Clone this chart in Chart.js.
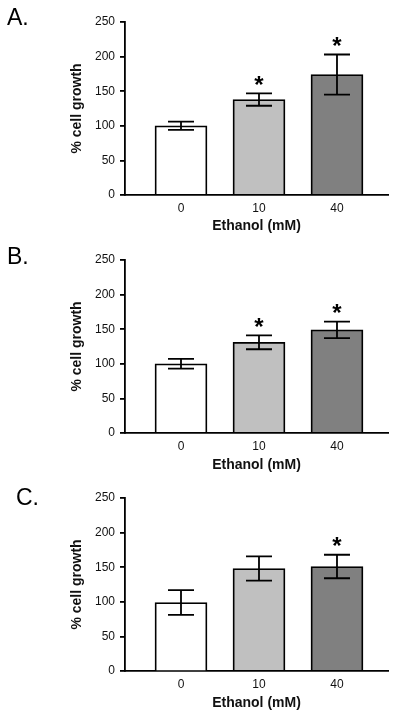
<!DOCTYPE html>
<html>
<head>
<meta charset="utf-8">
<script src="https://cdn.jsdelivr.net/npm/chart.js@4.4.1/dist/chart.umd.min.js"></script>
<style>
  body { margin: 0; background: #fff; width: 400px; }
  canvas { display: block; }
</style>
</head>
<body>
<canvas id="chartA" width="400" height="238"></canvas>
<canvas id="chartB" width="400" height="238"></canvas>
<canvas id="chartC" width="400" height="242"></canvas>
<script>
// ethanol doses (x categories)
const ethanolLabels = ['0', '10', '40'];

// panel A
const growthA = [100, 138, 174];
const errorA = [6, 9, 29];
const starsA = [false, true, true];

// panel B
const growthB = [100, 131, 149];
const errorB = [7, 10, 12];
const starsB = [false, true, true];

// panel C
const growthC = [99, 148, 151];
const errorC = [18, 17.5, 17];
const starsC = [false, false, true];

const yTicks = [0, 50, 100, 150, 200, 250];
const barColors = ['#ffffff', '#c0c0c0', '#808080'];

const FONT = "'Liberation Sans', Arial, sans-serif";

// error bars, significance stars and the panel letter
const extrasPlugin = {
  id: 'extras',
  afterDatasetsDraw(chart, args, opts) {
    const { ctx } = chart;
    const x = chart.scales.x, y = chart.scales.y;
    ctx.save();
    ctx.strokeStyle = '#000';
    ctx.lineWidth = 1.8;
    opts.values.forEach((v, i) => {
      const px = x.getPixelForValue(i);
      const top = y.getPixelForValue(v + opts.errors[i]);
      const bot = y.getPixelForValue(v - opts.errors[i]);
      ctx.beginPath();
      ctx.moveTo(px, top); ctx.lineTo(px, bot);
      ctx.moveTo(px - 13, top); ctx.lineTo(px + 13, top);
      ctx.moveTo(px - 13, bot); ctx.lineTo(px + 13, bot);
      ctx.stroke();
      if (opts.stars[i]) {
        ctx.font = 'bold 24px ' + FONT;
        ctx.fillStyle = '#000';
        ctx.textAlign = 'center';
        ctx.textBaseline = 'alphabetic';
        const m = ctx.measureText('*');
        const a = m.actualBoundingBoxAscent, d = m.actualBoundingBoxDescent;
        const target = top - 13;
        ctx.fillText('*', px, target + (a - d) / 2);
      }
    });
    ctx.font = '23px ' + FONT;
    ctx.fillStyle = '#000';
    ctx.textAlign = 'left';
    ctx.textBaseline = 'alphabetic';
    ctx.fillText(opts.letter, opts.letterX, opts.letterY);
    ctx.restore();
  }
};

function makePanel(id, values, errors, stars, letter, letterX, letterY, xHeight, titlePad) {
  return new Chart(document.getElementById(id), {
    type: 'bar',
    data: {
      datasets: [{
        data: values.map((v, i) => ({ x: i, y: v })),
        backgroundColor: barColors,
        borderColor: '#000',
        borderWidth: 1.8,
        barThickness: 52
      }]
    },
    options: {
      responsive: false,
      animation: false,
      layout: { padding: { left: 0, right: 12, top: 22, bottom: 0 } },
      plugins: {
        legend: { display: false },
        tooltip: { enabled: false },
        extras: { values, errors, stars, letter, letterX, letterY }
      },
      scales: {
        x: {
          type: 'linear',
          offset: false,
          min: -0.718,
          max: 2.654,
          grid: { display: false, drawTicks: false },
          border: { display: true, color: '#000', width: 1.8 },
          ticks: {
            stepSize: 1,
            includeBounds: false,
            autoSkip: false,
            maxRotation: 0,
            padding: 6,
            color: '#111',
            font: { family: FONT, size: 12 },
            callback: (v) => (Number.isInteger(v) && ethanolLabels[v] !== undefined) ? ethanolLabels[v] : ''
          },
          title: {
            display: true,
            text: 'Ethanol (mM)',
            color: '#111',
            font: { family: FONT, size: 14, weight: 'bold' },
            padding: { top: 0, bottom: titlePad }
          },
          afterFit: (s) => { s.height = xHeight; }
        },
        y: {
          min: 0,
          max: 250,
          afterBuildTicks: (s) => { s.ticks = yTicks.map(v => ({ value: v })); },
          grid: { display: true, drawOnChartArea: false, drawTicks: true, tickLength: 5, color: '#000', lineWidth: 1.8 },
          border: { display: true, color: '#000', width: 1.8 },
          ticks: {
            padding: 5,
            color: '#111',
            font: { family: FONT, size: 12 }
          },
          title: {
            display: true,
            text: '% cell growth',
            color: '#111',
            font: { family: FONT, size: 14, weight: 'bold' },
            padding: { top: 68.6, bottom: 0 }
          },
          afterFit: (s) => { s.width = 125; }
        }
      }
    },
    plugins: [extrasPlugin]
  });
}

makePanel('chartA', growthA, errorA, starsA, 'A.', 7, 25, 43, 3);
makePanel('chartB', growthB, errorB, starsB, 'B.', 7, 26.3, 43, 2.5);
makePanel('chartC', growthC, errorC, starsC, 'C.', 16, 29.3, 47, 6);
</script>
</body>
</html>
